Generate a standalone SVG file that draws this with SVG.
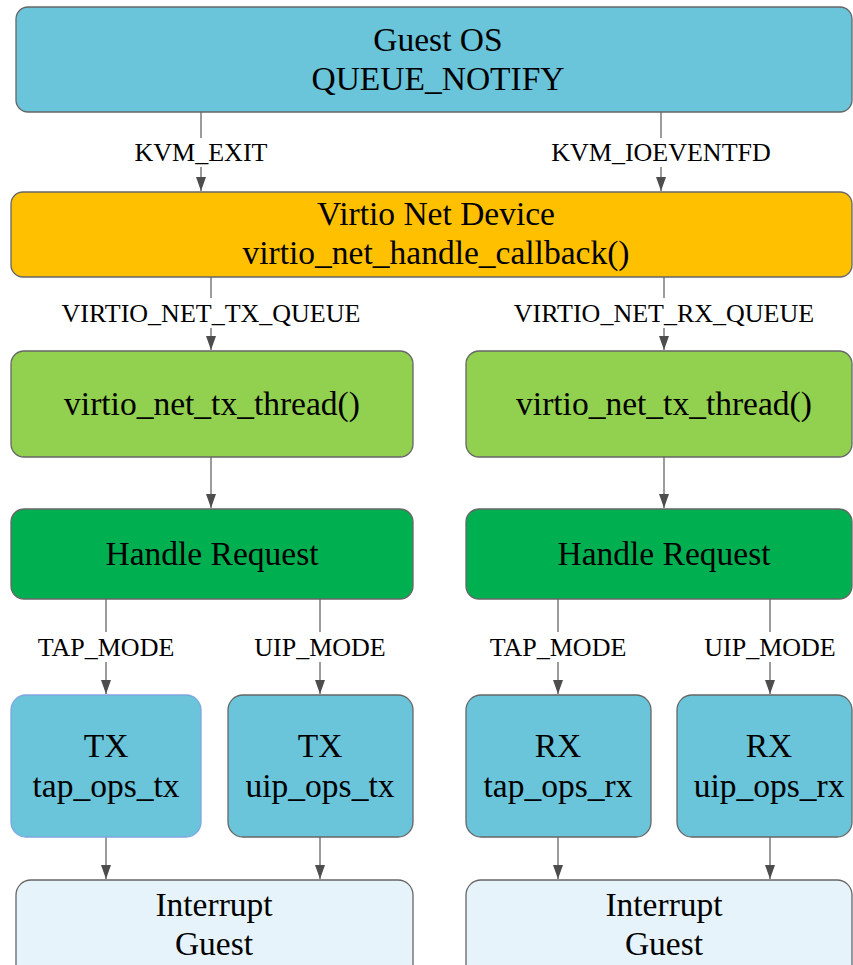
<svg xmlns="http://www.w3.org/2000/svg" width="853" height="965" viewBox="0 0 853 965">
<defs>
<style>
.n{stroke:#666666;stroke-width:1.3}
.t{font-family:"Liberation Serif","Times New Roman",serif;font-size:33.5px;fill:#000;text-anchor:middle}
.l{font-family:"Liberation Serif","Times New Roman",serif;font-size:26px;fill:#000;text-anchor:middle}
.e{stroke:#666666;stroke-width:1.3;fill:none}
.bg{fill:#ffffff}
</style>
<marker id="arrd" viewBox="0 0 14 10" markerWidth="14" markerHeight="10" refX="14" refY="5" orient="auto" markerUnits="userSpaceOnUse">
<path d="M0,0 L14,5 L0,10 z" fill="#4d4d4d"/>
</marker>
</defs>
<rect width="853" height="965" fill="#ffffff"/>

<g id="connectors">
<path class="e" d="M201,112 V191" marker-end="url(#arrd)"/>
<path class="e" d="M661,112 V191" marker-end="url(#arrd)"/>
<path class="e" d="M211,277 V350" marker-end="url(#arrd)"/>
<path class="e" d="M664,277 V350" marker-end="url(#arrd)"/>
<path class="e" d="M211,457 V508" marker-end="url(#arrd)"/>
<path class="e" d="M664,457 V508" marker-end="url(#arrd)"/>
<path class="e" d="M106,599 V694" marker-end="url(#arrd)"/>
<path class="e" d="M320,599 V694" marker-end="url(#arrd)"/>
<path class="e" d="M558,599 V694" marker-end="url(#arrd)"/>
<path class="e" d="M770,599 V694" marker-end="url(#arrd)"/>
<path class="e" d="M106,837 V879" marker-end="url(#arrd)"/>
<path class="e" d="M320,837 V879" marker-end="url(#arrd)"/>
<path class="e" d="M558,837 V879" marker-end="url(#arrd)"/>
<path class="e" d="M770,837 V879" marker-end="url(#arrd)"/>
<g id="edge-labels">
<rect class="bg" x="133" y="138" width="136" height="29"/>
<text class="l" x="201" y="161">KVM_EXIT</text>
<rect class="bg" x="549" y="138" width="224" height="29"/>
<text class="l" x="661" y="161">KVM_IOEVENTFD</text>
<rect class="bg" x="59" y="298" width="306" height="30"/>
<text class="l" x="211" y="322">VIRTIO_NET_TX_QUEUE</text>
<rect class="bg" x="510" y="298" width="308" height="30"/>
<text class="l" x="664" y="322">VIRTIO_NET_RX_QUEUE</text>
<rect class="bg" x="34" y="632" width="144" height="30"/>
<text class="l" x="106" y="656">TAP_MODE</text>
<rect class="bg" x="251" y="632" width="138" height="30"/>
<text class="l" x="320" y="656">UIP_MODE</text>
<rect class="bg" x="486" y="632" width="144" height="30"/>
<text class="l" x="558" y="656">TAP_MODE</text>
<rect class="bg" x="701" y="632" width="138" height="30"/>
<text class="l" x="770" y="656">UIP_MODE</text>
</g>
</g>

<g id="guest-os">
<rect class="n" x="16" y="7" width="836" height="105" rx="12" fill="#6AC4DA"/>
<text class="t" x="438" y="51">Guest OS</text>
<text class="t" x="438" y="90">QUEUE_NOTIFY</text>
</g>
<g id="virtio-net-device">
<rect class="n" x="11" y="192" width="841" height="85" rx="12" fill="#FFC000"/>
<text class="t" x="436" y="225">Virtio Net Device</text>
<text class="t" x="436" y="264">virtio_net_handle_callback()</text>
</g>
<g id="tx-thread">
<rect class="n" x="11" y="351" width="402" height="106" rx="13" fill="#92D050"/>
<text class="t" x="212" y="415">virtio_net_tx_thread()</text>
</g>
<g id="rx-thread">
<rect class="n" x="466" y="351" width="386" height="106" rx="13" fill="#92D050"/>
<text class="t" x="664" y="415">virtio_net_tx_thread()</text>
</g>
<g id="handle-tx">
<rect class="n" x="11" y="509" width="402" height="90" rx="13" fill="#00B050"/>
<text class="t" x="212" y="565">Handle Request</text>
</g>
<g id="handle-rx">
<rect class="n" x="466" y="509" width="386" height="90" rx="13" fill="#00B050"/>
<text class="t" x="664" y="565">Handle Request</text>
</g>
<g id="tx-tap">
<rect x="11" y="695" width="190" height="142" rx="15" fill="#6AC4DA" stroke="#7EA6E0" stroke-width="1.3"/>
<text class="t" x="106" y="757">TX</text>
<text class="t" x="106" y="797">tap_ops_tx</text>
</g>
<g id="tx-uip">
<rect class="n" x="228" y="695" width="185" height="142" rx="15" fill="#6AC4DA"/>
<text class="t" x="320" y="757">TX</text>
<text class="t" x="320" y="797">uip_ops_tx</text>
</g>
<g id="rx-tap">
<rect class="n" x="466" y="695" width="185" height="142" rx="15" fill="#6AC4DA"/>
<text class="t" x="558" y="757">RX</text>
<text class="t" x="558" y="797">tap_ops_rx</text>
</g>
<g id="rx-uip">
<rect class="n" x="677" y="695" width="175" height="142" rx="15" fill="#6AC4DA"/>
<text class="t" x="769" y="757">RX</text>
<text class="t" x="769" y="797">uip_ops_rx</text>
</g>
<g id="interrupt-tx">
<rect class="n" x="16" y="880" width="397" height="100" rx="15" fill="#E6F3FA"/>
<text class="t" x="214" y="916">Interrupt</text>
<text class="t" x="214" y="955">Guest</text>
</g>
<g id="interrupt-rx">
<rect class="n" x="466" y="880" width="386" height="100" rx="15" fill="#E6F3FA"/>
<text class="t" x="664" y="916">Interrupt</text>
<text class="t" x="664" y="955">Guest</text>
</g>
</svg>
